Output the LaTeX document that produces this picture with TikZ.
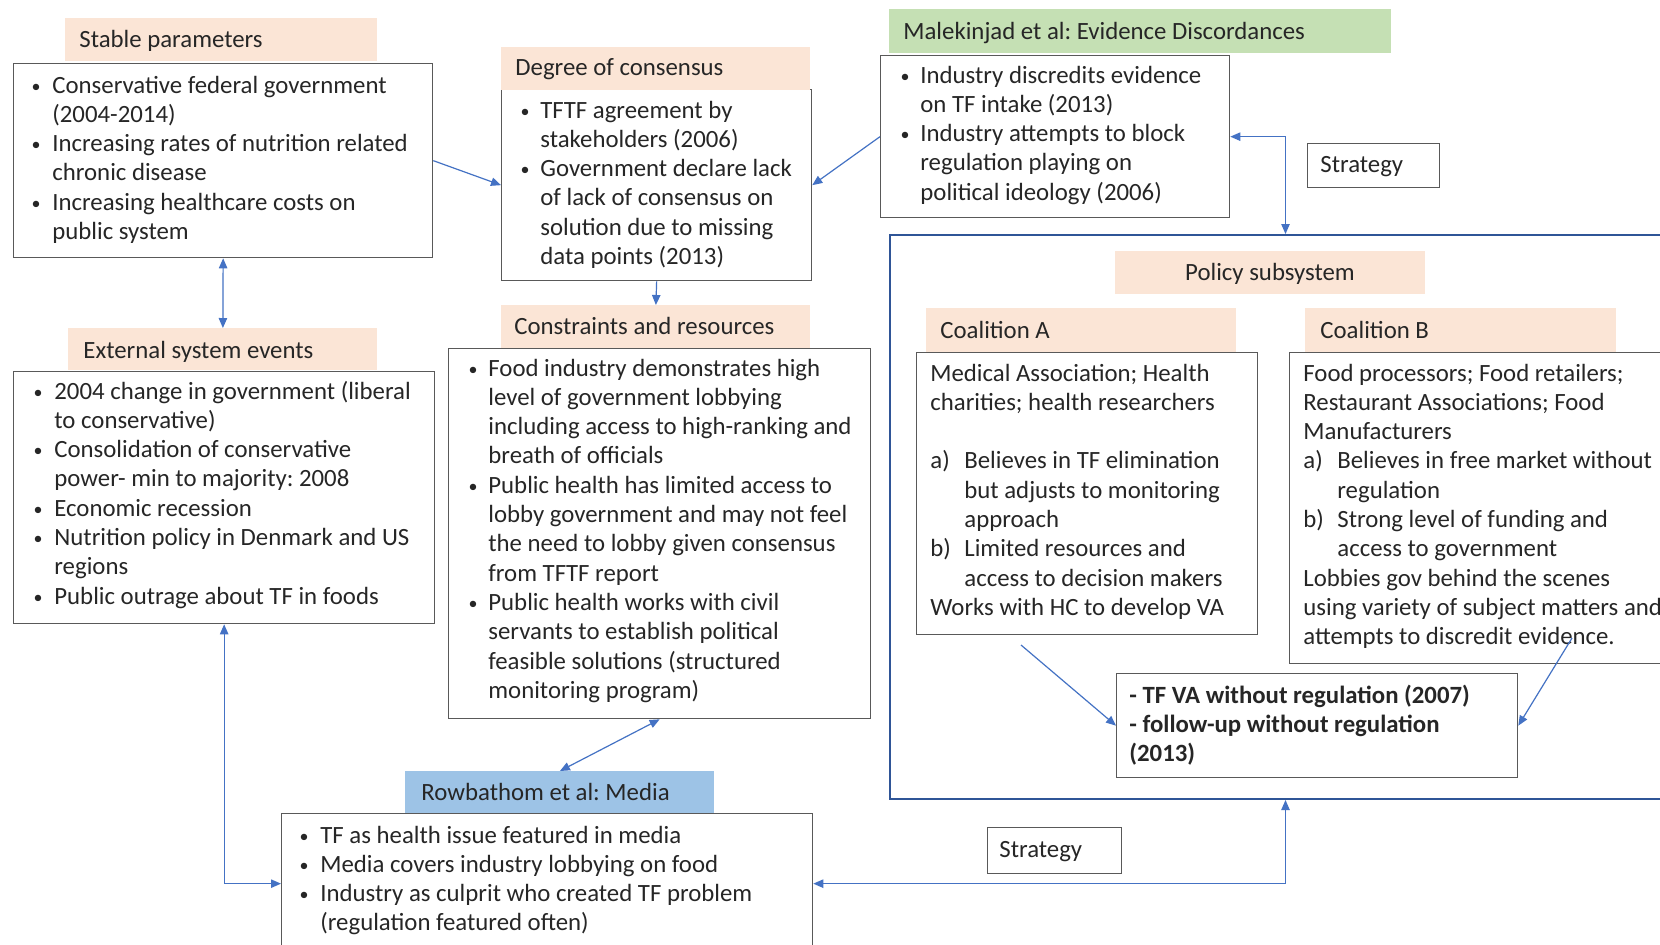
\documentclass[tikz,border=0pt]{standalone}
\usepackage{fontspec}
\setmainfont{Carlito}
\usetikzlibrary{arrows.meta}
\definecolor{peach}{HTML}{FBE5D6}
\definecolor{mgreen}{HTML}{C5E0B4}
\definecolor{mblue}{HTML}{9DC3E6}
\definecolor{arr}{HTML}{4472C4}
\definecolor{psblue}{HTML}{2F5597}
\definecolor{bord}{HTML}{595959}
\definecolor{txt}{HTML}{262626}
\newcommand\bodyfont{\fontsize{12.4}{14.65}\selectfont\frenchspacing}
\newcommand\hitem[3]{\par\noindent\hangindent=#1\hangafter=1\makebox[#1][l]{#2}#3}
\newcommand\smallbullet{\hspace{0.6pt}\raisebox{0.4pt}{\fontsize{9}{9}\selectfont\textbullet}}
\newcommand\bitem[2]{\hitem{#1}{\smallbullet}{#2}}
\tikzset{
  box/.style={draw=bord, line width=0.65pt, anchor=north west, inner sep=0pt, fill=white},
  hdr/.style={fill=peach, anchor=north west, inner sep=0pt},
  htxt/.style={anchor=base west, inner sep=0pt, text=txt, font=\bodyfont},
  btxt/.style={anchor=base west, inner sep=0pt, text=txt},
  link/.style={draw=arr, line width=0.6pt},
  tip/.style={-{Triangle[length=5pt,width=4.2pt]}},
  tips/.style={{Triangle[length=5pt,width=4.2pt]}-{Triangle[length=5pt,width=4.2pt]}}
}
\begin{document}
\frenchspacing
\begin{tikzpicture}[x=0.5pt,y=-0.5pt]
\useasboundingbox (0,0) rectangle (1660,944);
\clip (0,0) rectangle (1660,944);
\fill[white] (0,0) rectangle (1660,944);

% Policy subsystem frame
\node[draw=psblue, line width=1pt, anchor=north west, inner sep=0pt, minimum width=395.5pt, minimum height=282pt] (ps) at (889,234) {};
\node[hdr, minimum width=155pt, minimum height=21.5pt] (psh) at (1115,251) {};
\node[htxt, anchor=base] (psht) at (1270,280) {Policy subsystem};

% Stable parameters
\node[box, minimum width=209.5pt, minimum height=97pt] (sp) at (13,63) {};
\node[hdr, minimum width=156pt, minimum height=21.5pt] (sph) at (65,18) {};
\node[htxt] (spht) at (79,47) {Stable parameters};
\node[btxt] (spt) at (30,93) {\parbox[t]{240pt}{\bodyfont
\bitem{11pt}{Conservative federal government\newline (2004-2014)}
\bitem{11pt}{Increasing rates of nutrition related\newline chronic disease}
\bitem{11pt}{Increasing healthcare costs on\newline public system}}};

% Degree of consensus
\node[box, minimum width=155pt, minimum height=95.5pt] (dc) at (501,89) {};
\node[hdr, minimum width=154.5pt, minimum height=21.5pt] (dch) at (501,47) {};
\node[htxt] (dcht) at (515,75) {Degree of consensus};
\node[btxt] (dct) at (519,118) {\parbox[t]{200pt}{\bodyfont
\bitem{10.5pt}{TFTF agreement by\newline stakeholders (2006)}
\bitem{10.5pt}{Government declare lack\newline of lack of consensus on\newline solution due to missing\newline data points (2013)}}};

% Malekinjad
\node[box, minimum width=174.5pt, minimum height=81pt] (mk) at (880,55) {};
\node[hdr, fill=mgreen, minimum width=251pt, minimum height=22pt] (mkh) at (889,9) {};
\node[htxt] (mkht) at (903,39) {Malekinjad et al: Evidence Discordances};
\node[btxt] (mkt) at (899,83) {\parbox[t]{220pt}{\bodyfont
\bitem{10.5pt}{Industry discredits evidence\newline on TF intake (2013)}
\bitem{10.5pt}{Industry attempts to block\newline regulation playing on\newline political ideology (2006)}}};

% Strategy 1
\node[box, minimum width=66pt, minimum height=22pt] (st1) at (1307,143) {};
\node[htxt] (st1t) at (1320,172) {Strategy};

% External system events
\node[box, minimum width=210.5pt, minimum height=126pt] (ex) at (13,371) {};
\node[hdr, minimum width=154.5pt, minimum height=21pt] (exh) at (68,328) {};
\node[htxt] (exht) at (83,358) {External system events};
\node[btxt] (ext) at (32,399) {\parbox[t]{240pt}{\bodyfont
\bitem{11pt}{2004 change in government (liberal\newline to conservative)}
\bitem{11pt}{Consolidation of conservative\newline power- min to majority: 2008}
\bitem{11pt}{Economic recession}
\bitem{11pt}{Nutrition policy in Denmark and US\newline regions}
\bitem{11pt}{Public outrage about TF in foods}}};

% Constraints and resources
\node[box, minimum width=211pt, minimum height=185pt] (cr) at (448,348) {};
\node[hdr, minimum width=154.5pt, minimum height=21.5pt] (crh) at (501,305) {};
\node[htxt] (crht) at (514,334) {Constraints and resources};
\node[btxt] (crt) at (467,376) {\parbox[t]{240pt}{\bodyfont
\bitem{10.5pt}{Food industry demonstrates high\newline level of government lobbying\newline including access to high-ranking and\newline breath of officials}
\bitem{10.5pt}{Public health has limited access to\newline lobby government and may not feel\newline the need to lobby given consensus\newline from TFTF report}
\bitem{10.5pt}{Public health works with civil\newline servants to establish political\newline feasible solutions (structured\newline monitoring program)}}};

% Coalition A
\node[box, minimum width=170.5pt, minimum height=141pt] (ca) at (916,352) {};
\node[hdr, minimum width=155pt, minimum height=22pt] (cah) at (926,308) {};
\node[htxt] (caht) at (940,338) {Coalition A};
\node[btxt] (cat) at (930,381) {\parbox[t]{220pt}{\bodyfont
\noindent Medical Association; Health\newline charities; health researchers\newline\mbox{}
\hitem{17pt}{a)}{Believes in TF elimination\newline but adjusts to monitoring\newline approach}
\hitem{17pt}{b)}{Limited resources and\newline access to decision makers}
\par\noindent Works with HC to develop VA}};

% Coalition B
\node[box, minimum width=195.5pt, minimum height=155.5pt] (cb) at (1289,352) {};
\node[hdr, minimum width=155.5pt, minimum height=22pt] (cbh) at (1305,308) {};
\node[htxt] (cbht) at (1320,338) {Coalition B};
\node[btxt] (cbt) at (1303,381) {\parbox[t]{240pt}{\bodyfont
\noindent Food processors; Food retailers;\newline Restaurant Associations; Food\newline Manufacturers
\hitem{17pt}{a)}{Believes in free market without\newline regulation}
\hitem{17pt}{b)}{Strong level of funding and\newline access to government}
\par\noindent Lobbies gov behind the scenes\newline using variety of subject matters and\newline attempts to discredit evidence.}};

% TF VA outcome
\node[box, minimum width=200.5pt, minimum height=52pt] (tf) at (1116,673) {};
\node[btxt] (tft) at (1129,703) {\parbox[t]{220pt}{\bodyfont\bfseries
\noindent - TF VA without regulation (2007)\newline - follow-up without regulation\newline (2013)}};

% Rowbathom
\node[box, minimum width=265.5pt, minimum height=70pt] (rb) at (281,813) {};
\node[hdr, fill=mblue, minimum width=154.5pt, minimum height=21pt] (rbh) at (405,771) {};
\node[htxt] (rbht) at (421,800) {Rowbathom et al: Media};
\node[btxt] (rbt) at (298,843) {\parbox[t]{280pt}{\bodyfont
\bitem{11pt}{TF as health issue featured in media}
\bitem{11pt}{Media covers industry lobbying on food}
\bitem{11pt}{Industry as culprit who created TF problem\newline (regulation featured often)}}};

% Strategy 2
\node[box, minimum width=67pt, minimum height=23pt] (st2) at (987,827) {};
\node[htxt] (st2t) at (999,857) {Strategy};

% connectors
\coordinate (caend) at (1021,645);
\coordinate (cbend) at (1572,638);
\draw[link,tip] (sp.east) -- (dc.west);
\draw[link,tip] (mk.west) -- (dc.east);
\draw[link,tip] (dc.south) -- (crh.north);
\draw[link,tips] (sp.south) -- (exh.north);
\draw[link,tips] (mk.east) -| (ps.north);
\draw[link,tips] (ps.south) |- (rb.east);
\draw[link,tips] (ex.south) |- (rb.west);
\draw[link,tips] (cr.south) -- (rbh.north);
\draw[link,tip] (caend) -- (tf.west);
\draw[link,tip] (cbend) -- (tf.east);
\end{tikzpicture}
\end{document}
